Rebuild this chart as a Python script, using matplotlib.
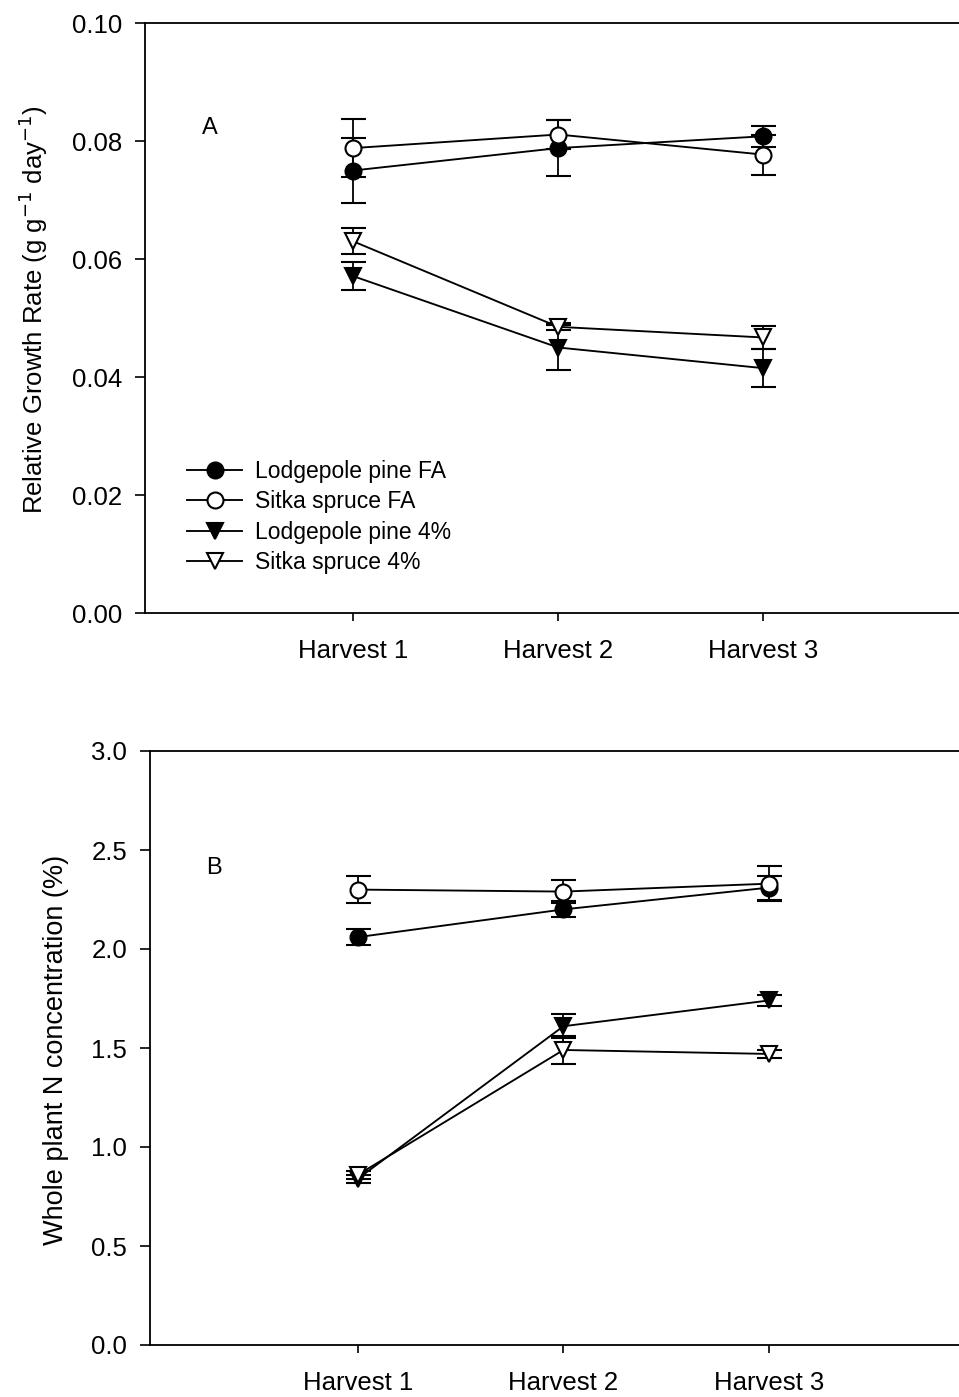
import matplotlib
matplotlib.use("Agg")
import matplotlib.pyplot as plt
from matplotlib.ticker import FormatStrFormatter

plt.rcParams['font.family'] = ['Liberation Sans', 'DejaVu Sans']
plt.rcParams['mathtext.fontset'] = 'custom'
plt.rcParams['mathtext.rm'] = 'Liberation Sans'
plt.rcParams['mathtext.it'] = 'Liberation Sans'

# ---- data ----
harvests = ["Harvest 1", "Harvest 2", "Harvest 3"]
xpos = [1, 2, 3]

series_labels = ["Lodgepole pine FA", "Sitka spruce FA", "Lodgepole pine 4%", "Sitka spruce 4%"]

rgr_lp_fa = [0.0750, 0.0788, 0.0808]
rgr_lp_fa_err = [0.0055, 0.0047, 0.0018]
rgr_ss_fa = [0.0788, 0.0811, 0.0777]
rgr_ss_fa_err = [0.0049, 0.0025, 0.0034]
rgr_lp_4 = [0.0571, 0.0450, 0.0415]
rgr_lp_4_err = [0.0024, 0.0038, 0.0032]
rgr_ss_4 = [0.0630, 0.0485, 0.0467]
rgr_ss_4_err = [0.0022, 0.0006, 0.0020]

n_lp_fa = [2.06, 2.20, 2.31]
n_lp_fa_err = [0.04, 0.04, 0.06]
n_ss_fa = [2.30, 2.29, 2.33]
n_ss_fa_err = [0.07, 0.06, 0.09]
n_lp_4 = [0.84, 1.61, 1.74]
n_lp_4_err = [0.02, 0.06, 0.03]
n_ss_4 = [0.86, 1.49, 1.47]
n_ss_4_err = [0.02, 0.07, 0.02]

rgr_ticks = [0.00, 0.02, 0.04, 0.06, 0.08, 0.10]
n_ticks = [0.0, 0.5, 1.0, 1.5, 2.0, 2.5, 3.0]

styles = [
    dict(marker='o', mfc='black'),
    dict(marker='o', mfc='white'),
    dict(marker='v', mfc='black'),
    dict(marker='v', mfc='white'),
]

W, H = 959, 1397
fig = plt.figure(figsize=(W / 100, H / 100), dpi=100)

def px_axes(left, right, top, bottom):
    return fig.add_axes([left / W, 1 - bottom / H, (right - left) / W, (bottom - top) / H])

ax1 = px_axes(145, 959, 23, 613)
ax2 = px_axes(150, 959, 751, 1345)

def draw(ax, vals, errs):
    handles = []
    for (v, e, st, lab) in zip(vals, errs, styles, series_labels):
        c = ax.errorbar(xpos, v, yerr=e, color='black', lw=1.35, elinewidth=1.3,
                        capsize=9, capthick=1.3, marker=st['marker'], mfc=st['mfc'],
                        mec='black', mew=1.5, ms=11.5, label=lab, clip_on=False)
        handles.append(c[0])
    return handles

handles = draw(ax1, [rgr_lp_fa, rgr_ss_fa, rgr_lp_4, rgr_ss_4],
               [rgr_lp_fa_err, rgr_ss_fa_err, rgr_lp_4_err, rgr_ss_4_err])
draw(ax2, [n_lp_fa, n_ss_fa, n_lp_4, n_ss_4],
     [n_lp_fa_err, n_ss_fa_err, n_lp_4_err, n_ss_4_err])

ax1.set_xlim(-0.015, 3.955)
ax1.set_ylim(0, 0.10)
ax1.set_yticks(rgr_ticks)
ax1.yaxis.set_major_formatter(FormatStrFormatter('%.2f'))
ax2.set_xlim(-0.012, 3.925)
ax2.set_ylim(0, 3.0)
ax2.set_yticks(n_ticks)
ax2.yaxis.set_major_formatter(FormatStrFormatter('%.1f'))

for ax in (ax1, ax2):
    ax.set_xticks(xpos)
    ax.set_xticklabels(harvests)
    ax.spines['right'].set_visible(False)
    for s in ('left', 'bottom', 'top'):
        ax.spines[s].set_linewidth(1.3)
    ax.tick_params(axis='y', direction='out', length=7.5, width=1.2, pad=9, labelsize=18.5)
    ax.tick_params(axis='x', direction='out', length=5.5, width=1.2, pad=13, labelsize=18.5)

ax1.text(210 / W, 1 - 128 / H, "A", transform=fig.transFigure, fontsize=17, ha='center', va='center')
ax2.text(214 / W, 1 - 868 / H, "B", transform=fig.transFigure, fontsize=17, ha='center', va='center')

fig.text(43 / W, 1 - 310 / H, r"Relative Growth Rate (g g$^{\mathsf{-1}}$ day$^{\mathsf{-1}}$)",
         rotation=90, rotation_mode='anchor', ha='center', va='baseline', fontsize=18.5)
fig.text(63 / W, 1 - 1050 / H, "Whole plant N concentration (%)",
         rotation=90, rotation_mode='anchor', ha='center', va='baseline', fontsize=19.5)

fig.legend(handles=handles, labels=series_labels, loc='upper left',
           bbox_to_anchor=(187 / W, 1 - 460 / H), frameon=False, fontsize=16.5,
           handlelength=2.4, handletextpad=0.55, labelspacing=0.32, borderpad=0,
           borderaxespad=0, markerscale=1.0)

fig.savefig("out.png", dpi=100)
